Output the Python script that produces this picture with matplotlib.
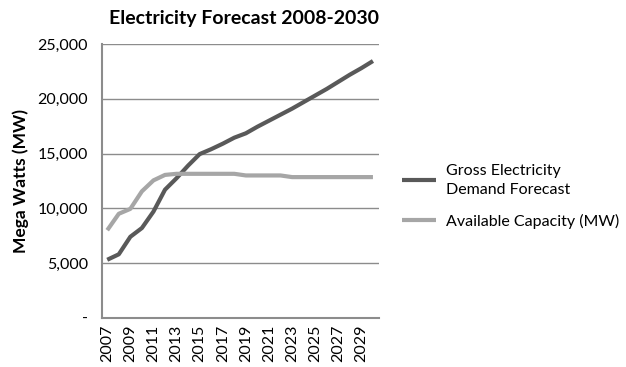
import matplotlib
matplotlib.use("Agg")
import matplotlib.pyplot as plt
from matplotlib.ticker import FuncFormatter

years = list(range(2007, 2031))
demand = [5300, 5800, 7400, 8200, 9700, 11700, 12750, 13900, 14950, 15400, 15900, 16450,
          16850, 17450, 18000, 18550, 19100, 19700, 20300, 20900, 21550, 22200, 22800, 23450]
capacity = [8000, 9500, 9950, 11550, 12550, 13050, 13150, 13150, 13150, 13150, 13150, 13150,
            13000, 13000, 13000, 13000, 12850, 12850, 12850, 12850, 12850, 12850, 12850, 12850]
series_names = ["Gross Electricity\nDemand Forecast", "Available Capacity (MW)"]
yticks = [0, 5000, 10000, 15000, 20000, 25000]
xticks = list(range(2007, 2030, 2))

plt.rcParams['font.family'] = ['Lato', 'DejaVu Sans']
fig = plt.figure(figsize=(6.26, 3.67), dpi=100)
ax = fig.add_axes([0.163, 0.134, 0.442, 0.746])

ax.plot(years, demand, color="#595959", lw=3, label=series_names[0], solid_capstyle="butt")
ax.plot(years, capacity, color="#a6a6a6", lw=3, label=series_names[1], solid_capstyle="butt")

ax.set_xlim(2006.55, 2030.5)
ax.set_ylim(0, 25000)
ax.set_yticks(yticks)
ax.yaxis.set_major_formatter(FuncFormatter(lambda v, p: "-" if v == 0 else f"{int(v):,}"))
ax.set_xticks(xticks)
ax.set_xticklabels([str(x) for x in xticks], rotation=90)
ax.tick_params(axis="both", length=0, labelsize=11.5, colors="black")
ax.tick_params(axis="y", pad=10)
ax.tick_params(axis="x", pad=5)
ax.grid(axis="y", color="#8c8c8c", lw=1)
ax.set_axisbelow(True)
for s in ["top", "right"]:
    ax.spines[s].set_visible(False)
for s in ["left", "bottom"]:
    ax.spines[s].set_color("#8c8c8c")
    ax.spines[s].set_linewidth(1.5)

ax.set_ylabel("Mega Watts (MW)", fontsize=12.5, fontweight="bold", labelpad=6)
fig.text(0.39, 0.95, "Electricity Forecast 2008-2030", ha="center", va="center",
         fontsize=14, fontweight="bold")

leg = fig.legend(loc="center left", bbox_to_anchor=(0.62, 0.465), frameon=False, fontsize=11.5,
                 handlelength=2.1, handletextpad=0.6, labelspacing=1.05)
for t in leg.get_texts():
    t.set_linespacing(1.5)

fig.savefig("out.png", dpi=100)
